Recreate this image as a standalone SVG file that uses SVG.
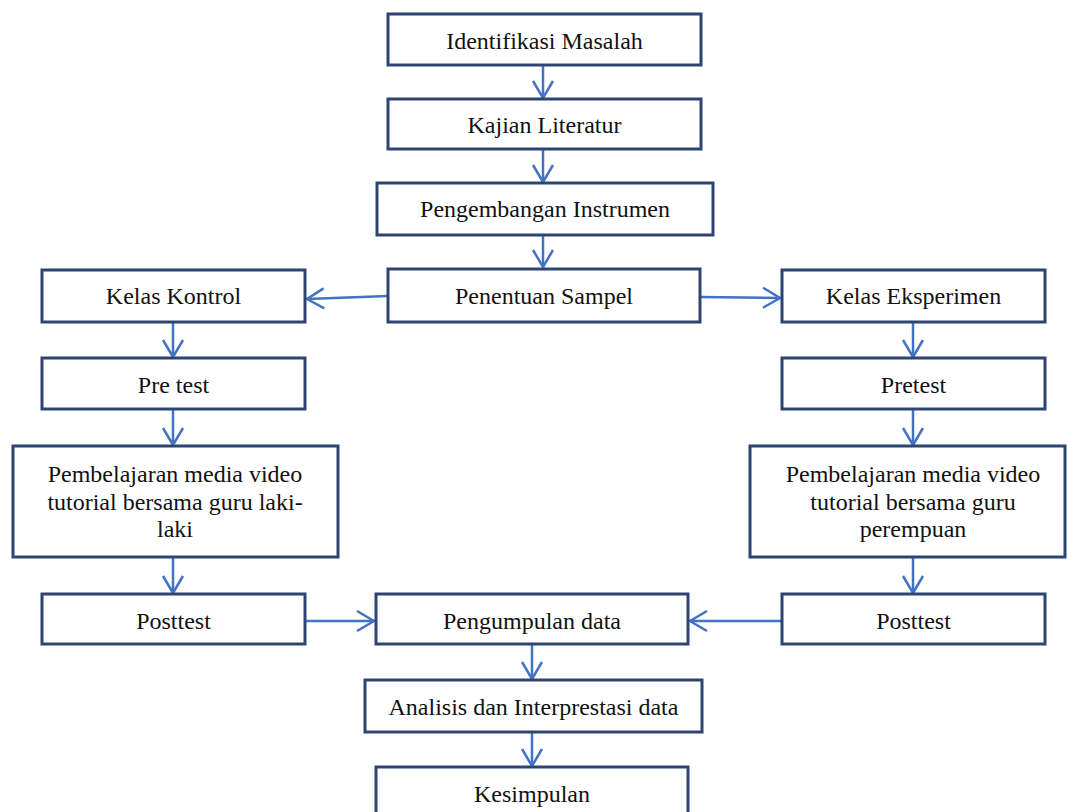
<svg xmlns="http://www.w3.org/2000/svg" width="1067" height="812" viewBox="0 0 1067 812">
<defs>
<marker id="arr" markerUnits="userSpaceOnUse" markerWidth="24" markerHeight="24" viewBox="-20 -12 24 24" refX="0" refY="0" orient="auto">
<path d="M-17,-10 L0,0 L-17,10" fill="none" stroke="#4472C4" stroke-width="2.5"/>
</marker>
</defs>
<style>
.box{fill:#ffffff;stroke:#2E4573;stroke-width:3}
.t{font-family:"Liberation Serif","Times New Roman",serif;font-size:24px;fill:#111111;text-anchor:middle}
.c{fill:none;stroke:#4472C4;stroke-width:2.5;marker-end:url(#arr)}
</style>
<rect width="1067" height="812" fill="#ffffff"/>
<g id="connectors">
<line class="c" x1="543" y1="65" x2="543" y2="98"/>
<line class="c" x1="543" y1="149" x2="543" y2="182"/>
<line class="c" x1="543" y1="235" x2="543" y2="267"/>
<line class="c" x1="388" y1="296" x2="307" y2="299"/>
<line class="c" x1="700" y1="297" x2="780" y2="298"/>
<line class="c" x1="173" y1="322" x2="173" y2="357"/>
<line class="c" x1="173" y1="409" x2="173" y2="445"/>
<line class="c" x1="173" y1="557" x2="173" y2="593"/>
<line class="c" x1="913" y1="322" x2="913" y2="357"/>
<line class="c" x1="913" y1="409" x2="913" y2="445"/>
<line class="c" x1="913" y1="557" x2="913" y2="593"/>
<line class="c" x1="305" y1="621" x2="374" y2="621"/>
<line class="c" x1="782" y1="621" x2="690" y2="621"/>
<line class="c" x1="532" y1="644" x2="532" y2="679"/>
<line class="c" x1="532" y1="732" x2="532" y2="766"/>
</g>
<g id="n1"><rect class="box" x="388" y="14" width="313" height="51"/><text class="t" x="544.5" y="49">Identifikasi Masalah</text></g>
<g id="n2"><rect class="box" x="388" y="99" width="313" height="50"/><text class="t" x="544.5" y="133">Kajian Literatur</text></g>
<g id="n3"><rect class="box" x="377" y="183" width="336" height="52"/><text class="t" x="545" y="217">Pengembangan Instrumen</text></g>
<g id="n4"><rect class="box" x="388" y="269" width="312" height="53"/><text class="t" x="544" y="304">Penentuan Sampel</text></g>
<g id="n5"><rect class="box" x="42" y="270" width="263" height="52"/><text class="t" x="173.5" y="304">Kelas Kontrol</text></g>
<g id="n6"><rect class="box" x="782" y="270" width="263" height="52"/><text class="t" x="913.5" y="304">Kelas Eksperimen</text></g>
<g id="n7"><rect class="box" x="42" y="358" width="263" height="51"/><text class="t" x="173.5" y="393">Pre test</text></g>
<g id="n8"><rect class="box" x="782" y="358" width="263" height="51"/><text class="t" x="913.5" y="393">Pretest</text></g>
<g id="n9"><rect class="box" x="13" y="446" width="325" height="111"/><text class="t" x="175" y="482">Pembelajaran media video</text><text class="t" x="175" y="510">tutorial bersama guru laki-</text><text class="t" x="175" y="537">laki</text></g>
<g id="n10"><rect class="box" x="750" y="446" width="315" height="111"/><text class="t" x="913" y="482">Pembelajaran media video</text><text class="t" x="913" y="510">tutorial bersama guru</text><text class="t" x="913" y="537">perempuan</text></g>
<g id="n11"><rect class="box" x="42" y="594" width="263" height="50"/><text class="t" x="173.5" y="629">Posttest</text></g>
<g id="n12"><rect class="box" x="376" y="594" width="312" height="50"/><text class="t" x="532" y="629">Pengumpulan data</text></g>
<g id="n13"><rect class="box" x="782" y="594" width="263" height="50"/><text class="t" x="913.5" y="629">Posttest</text></g>
<g id="n14"><rect class="box" x="365" y="680" width="337" height="52"/><text class="t" x="533.5" y="715">Analisis dan Interprestasi data</text></g>
<g id="n15"><rect class="box" x="376" y="767" width="312" height="60"/><text class="t" x="532" y="802">Kesimpulan</text></g>
</svg>
